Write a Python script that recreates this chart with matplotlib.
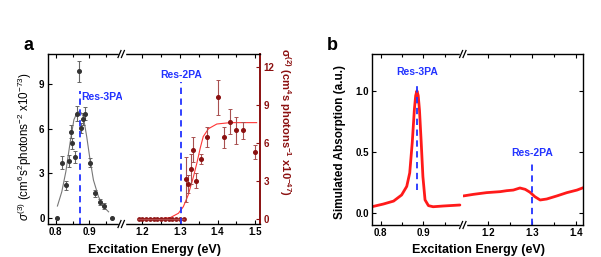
import matplotlib
matplotlib.use("Agg")
import matplotlib.pyplot as plt
from matplotlib.lines import Line2D
from matplotlib.patches import Rectangle
from matplotlib.ticker import FixedLocator

plt.rcParams['font.family'] = ['Liberation Sans', 'DejaVu Sans']
plt.rcParams['mathtext.fontset'] = 'custom'
plt.rcParams['mathtext.rm'] = 'Liberation Sans'
plt.rcParams['mathtext.it'] = 'Liberation Sans:italic'
plt.rcParams['mathtext.bf'] = 'Liberation Sans:bold'

# ---- panel a: 3PA cross section (left scale, gray) ----
e3 = [0.805, 0.820, 0.830, 0.840, 0.845, 0.849, 0.857, 0.862, 0.868, 0.874, 0.880, 0.888, 0.902, 0.917, 0.932, 0.944, 0.967]
s3 = [0.0, 3.71, 2.20, 3.82, 5.80, 5.00, 4.07, 7.00, 9.85, 6.03, 6.66, 7.00, 3.71, 1.64, 1.08, 0.81, 0.0]
s3_err = [0.0, 0.45, 0.30, 0.40, 0.45, 0.40, 0.40, 0.50, 0.70, 0.35, 0.40, 0.45, 0.30, 0.25, 0.20, 0.20, 0.0]
fit3_e = [0.805, 0.818, 0.830, 0.843, 0.854, 0.864, 0.870, 0.876, 0.882, 0.892, 0.902, 0.912, 0.927, 0.942, 0.957]
fit3_s = [0.79, 1.75, 3.10, 5.10, 6.60, 7.10, 7.15, 7.05, 6.80, 5.46, 3.90, 2.54, 1.42, 0.74, 0.40]

# ---- panel a: 2PA cross section (right scale, red) ----
e2_zero = [1.19, 1.20, 1.21, 1.22, 1.23, 1.24, 1.25, 1.26, 1.27, 1.28, 1.29, 1.30, 1.31]
e2 = [1.315, 1.321, 1.329, 1.335, 1.342, 1.356, 1.371, 1.401, 1.417, 1.433, 1.450, 1.467, 1.501]
s2 = [3.12, 2.75, 3.94, 5.45, 2.99, 4.71, 6.46, 9.60, 6.43, 7.67, 6.98, 6.98, 5.27]
s2_err = [1.8, 0.7, 1.2, 1.0, 0.6, 0.4, 0.8, 1.4, 0.8, 1.0, 1.1, 0.65, 0.55]
fit2_e = [1.19, 1.25, 1.274, 1.296, 1.309, 1.322, 1.336, 1.345, 1.354, 1.362, 1.376, 1.398, 1.433, 1.504]
fit2_s = [0.0, 0.01, 0.08, 0.43, 0.95, 1.88, 3.33, 4.40, 5.59, 6.50, 7.12, 7.49, 7.60, 7.60]

# ---- panel b: simulated absorption ----
simL_e = [0.779, 0.806, 0.830, 0.849, 0.861, 0.868, 0.874, 0.879, 0.882, 0.885, 0.888, 0.891, 0.895, 0.899, 0.904, 0.912, 0.923, 0.947, 0.986]
simL_a = [0.054, 0.076, 0.100, 0.150, 0.220, 0.330, 0.580, 0.850, 0.960, 1.000, 0.960, 0.840, 0.580, 0.300, 0.110, 0.063, 0.054, 0.060, 0.068]
simR_e = [1.143, 1.166, 1.196, 1.227, 1.242, 1.257, 1.272, 1.284, 1.295, 1.306, 1.318, 1.333, 1.356, 1.379, 1.402, 1.419]
simR_a = [0.142, 0.155, 0.169, 0.177, 0.185, 0.190, 0.207, 0.196, 0.172, 0.136, 0.109, 0.117, 0.142, 0.169, 0.190, 0.213]

res3_a, res2_a = 0.872, 1.303
res3_b, res2_b = 0.885, 1.300

W, H = 601, 257
fig = plt.figure(figsize=(W / 100, H / 100), dpi=100)

def box(x0, x1, ytop, ybot):
    return [x0 / W, (H - ybot) / H, (x1 - x0) / W, (ybot - ytop) / H]

def px(x, y):
    return x / W, (H - y) / H

DARKRED = '#8b1010'
BLUE = '#2233ff'

def style(ax, major, minor):
    ax.tick_params(which='both', direction='in', top=True, labelsize=7, pad=2.5, width=0.8)
    ax.tick_params(which='major', length=3)
    ax.tick_params(which='minor', length=2)
    ax.xaxis.set_major_locator(FixedLocator(major))
    ax.xaxis.set_minor_locator(FixedLocator(minor))
    ax.set_xticklabels(['%.1f' % v for v in major], fontweight='bold')
    for s in ax.spines.values():
        s.set_linewidth(1.0)

def brk(xp, yp):
    # white gap + "//" mark across a spine
    fig.patches.append(Rectangle(px(xp - 3, yp + 2), 6 / W, 4 / H, transform=fig.transFigure,
                                 color='white', zorder=10))
    for dx in (-2.2, 1.2):
        x0, y0 = px(xp + dx - 1.5, yp + 3.5)
        x1, y1 = px(xp + dx + 1.5, yp - 3.5)
        fig.lines.append(Line2D([x0, x1], [y0, y1], transform=fig.transFigure, color='black',
                                lw=0.9, zorder=11))

# ---------------- panel a ----------------
aL = fig.add_axes(box(48, 121.7, 54, 224))
aR = fig.add_axes(box(121.7, 260, 54, 224))
aL.set_xlim(0.777, 0.996)
aR.set_xlim(1.145, 1.513)
aL.set_ylim(-0.42, 11.02)
aR.set_ylim(-0.42, 13.03)
style(aL, [0.8, 0.9], [0.85, 0.95])
style(aR, [1.2, 1.3, 1.4, 1.5], [1.25, 1.35, 1.45])
aL.spines['right'].set_visible(False)
aR.spines['left'].set_visible(False)
aL.yaxis.set_major_locator(FixedLocator([0, 3, 6, 9]))
aL.set_yticklabels(['0', '3', '6', '9'], fontweight='bold')
aL.tick_params(axis='y', right=False)
aR.yaxis.tick_right()
aR.yaxis.set_major_locator(FixedLocator([0, 3, 6, 9, 12]))
aR.set_yticklabels(['0', '3', '6', '9', '12'], fontweight='bold', color=DARKRED)
aR.tick_params(axis='y', which='both', left=False, right=True, color=DARKRED)
aR.spines['right'].set_color(DARKRED)
aR.spines['right'].set_linewidth(1.4)

aL.plot(fit3_e, fit3_s, color='#777777', lw=0.8)
aL.errorbar(e3, s3, yerr=s3_err, fmt='o', ms=2.6, color='#333333', ecolor='#666666',
            elinewidth=0.8, capsize=1.5, capthick=0.7)
aL.plot([res3_a, res3_a], [-0.42, 8.53], color=BLUE, lw=1.3, ls=(0, (3.5, 2.5)))
aL.text(0.876, 8.14, 'Res-3PA', color=BLUE, fontsize=7.5, fontweight='bold',
        ha='left', va='center', clip_on=False)

aR.plot(fit2_e, fit2_s, color='#ff3535', lw=0.8)
aR.plot(e2_zero, [0] * len(e2_zero), 'o', ms=2.4, color=DARKRED)
aR.plot([1.188, 1.312], [0, 0], color='#b04545', lw=1.0)
aR.errorbar(e2, s2, yerr=s2_err, fmt='o', ms=2.6, color=DARKRED, ecolor='#a85050',
            elinewidth=0.8, capsize=1.5, capthick=0.7)
aR.plot([res2_a, res2_a], [-0.42, 10.84], color=BLUE, lw=1.3, ls=(0, (3.5, 2.5)))
aR.text(res2_a, 11.37, 'Res-2PA', color=BLUE, fontsize=7.5, fontweight='bold',
        ha='center', va='center')

brk(121.7, 54)
brk(121.7, 224)

fig.text(*px(25, 147), r'$\sigma^{(3)}$ (cm$^6$s$^2$photons$^{-2}$ x10$^{-73}$)', rotation=90,
         ha='center', va='center', fontsize=8.4)
fig.text(*px(285, 122), r'$\mathbf{\sigma^{(2)}}$ (cm$^\mathbf{4}$s photons$^\mathbf{-1}$ x10$^\mathbf{-47}$)',
         rotation=270, ha='center', va='center', fontsize=8, fontweight='bold', color=DARKRED)
fig.text(*px(154.5, 250), 'Excitation Energy (eV)', ha='center', va='center', fontsize=9, fontweight='bold')
fig.text(*px(28, 45), 'a', ha='center', va='center', fontsize=13, fontweight='bold')

# ---------------- panel b ----------------
bL = fig.add_axes(box(372.3, 463.3, 54, 225))
bR = fig.add_axes(box(463.3, 582.7, 54, 225))
bL.set_xlim(0.780, 0.994)
bR.set_xlim(1.143, 1.415)
for ax in (bL, bR):
    ax.set_ylim(-0.095, 1.30)
    ax.yaxis.set_major_locator(FixedLocator([0.0, 0.5, 1.0]))
style(bL, [0.8, 0.9], [0.85, 0.95])
style(bR, [1.2, 1.3, 1.4], [1.25, 1.35])
bL.set_yticklabels(['0.0', '0.5', '1.0'], fontweight='bold')
bL.spines['right'].set_visible(False)
bL.tick_params(axis='y', right=False)
bR.spines['left'].set_visible(False)
bR.tick_params(axis='y', left=False, right=True, labelleft=False)

bL.plot(simL_e, simL_a, color='#ff1a1a', lw=2.0, solid_capstyle='round', solid_joinstyle='round')
bR.plot(simR_e, simR_a, color='#ff1a1a', lw=2.0, solid_capstyle='round', solid_joinstyle='round')
bL.plot([res3_b, res3_b], [0.19, 1.07], color=BLUE, lw=1.3, ls=(0, (3.5, 2.5)))
bL.text(res3_b, 1.155, 'Res-3PA', color=BLUE, fontsize=7.5, fontweight='bold', ha='center', va='center')
bR.plot([res2_b, res2_b], [-0.095, 0.426], color=BLUE, lw=1.3, ls=(0, (3.5, 2.5)))
bR.text(res2_b, 0.49, 'Res-2PA', color=BLUE, fontsize=7.5, fontweight='bold', ha='center', va='center')

brk(463.3, 54)
brk(463.3, 225)

fig.text(*px(340, 142), 'Simulated Absorption (a.u.)', rotation=90, ha='center', va='center',
         fontsize=8.5, fontweight='bold')
fig.text(*px(478, 250), 'Excitation Energy (eV)', ha='center', va='center', fontsize=9, fontweight='bold')
fig.text(*px(332, 45), 'b', ha='center', va='center', fontsize=13, fontweight='bold')

fig.savefig('out.png', dpi=100)
